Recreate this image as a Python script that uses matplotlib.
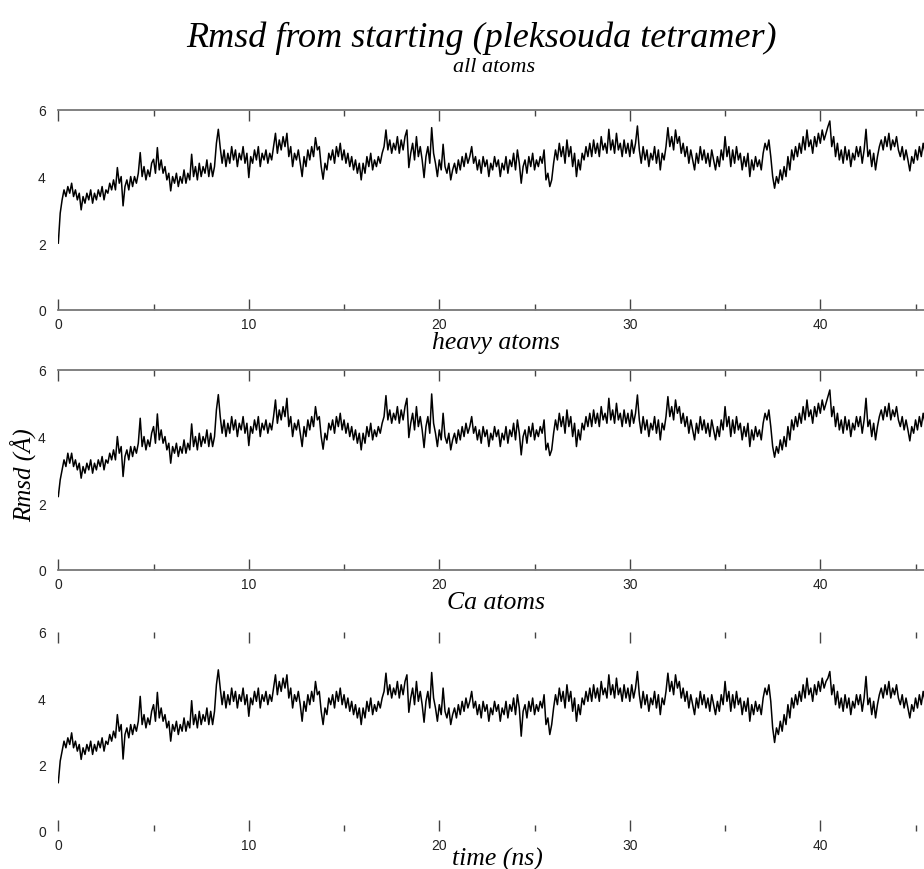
import numpy as np
import matplotlib
matplotlib.use("Agg")
import matplotlib.pyplot as plt

# ---------------- data (0.1 ns sampling) ----------------
time_step_ns = 0.1

rmsd_all = [
    2.0, 2.9, 3.3, 3.6, 3.4, 3.7, 3.5, 3.8, 3.4, 3.6,
    3.3, 3.5, 3.0, 3.4, 3.2, 3.5, 3.3, 3.6, 3.2, 3.5,
    3.3, 3.6, 3.4, 3.7, 3.3, 3.6, 3.5, 3.8, 3.6, 3.9,
    3.6, 4.27, 3.8, 4.0, 3.12, 3.7, 3.9, 3.6, 4.0, 3.7,
    4.0, 3.8, 4.1, 4.72, 4.0, 4.3, 3.9, 4.2, 4.0, 4.4,
    4.52, 4.1, 4.87, 4.2, 4.5, 4.1, 4.3, 3.9, 4.1, 3.57,
    4.0, 3.8, 4.1, 3.7, 4.0, 3.8, 4.2, 3.8, 4.1, 3.9,
    4.67, 4.0, 4.3, 3.9, 4.4, 4.0, 4.3, 4.1, 4.5, 4.0,
    4.4, 4.0, 4.3, 5.0, 5.42, 4.87, 4.4, 4.8, 4.3, 4.7,
    4.4, 4.9, 4.5, 4.8, 4.3, 4.7, 4.5, 4.9, 4.4, 4.7,
    3.97, 4.6, 4.4, 4.8, 4.5, 4.9, 4.3, 4.7, 4.5, 4.8,
    4.4, 4.7, 4.5, 4.9, 5.3, 4.7, 5.1, 4.8, 5.2, 4.9,
    5.3, 4.6, 4.9, 4.3, 4.7, 4.5, 4.8, 4.4, 4.0, 4.6,
    4.3, 4.8, 4.5, 4.9, 4.6, 5.17, 4.8, 4.9, 4.3, 3.92,
    4.4, 4.2, 4.7, 4.5, 4.8, 4.4, 4.9, 4.6, 5.0, 4.5,
    4.8, 4.4, 4.7, 4.3, 4.6, 4.2, 4.5, 4.1, 4.4, 3.9,
    4.4, 4.1, 4.6, 4.3, 4.7, 4.2, 4.5, 4.3, 4.6, 4.4,
    4.7, 4.9, 5.4, 4.8, 5.1, 4.7, 5.0, 4.8, 5.2, 4.7,
    5.1, 4.8, 5.2, 5.4, 4.27, 4.7, 5.0, 4.5, 5.2, 4.6,
    4.9, 4.5, 3.97, 4.6, 4.9, 4.4, 5.47, 4.7, 4.4, 4.0,
    4.5, 4.2, 4.97, 4.3, 4.1, 4.4, 3.9, 4.2, 4.4, 4.1,
    4.5, 4.2, 4.6, 4.3, 4.7, 4.4, 4.6, 4.9, 4.4, 4.6,
    4.2, 4.5, 4.1, 4.6, 4.3, 4.5, 4.0, 4.4, 4.2, 4.6,
    4.3, 4.5, 4.0, 4.4, 4.2, 4.6, 4.1, 4.5, 4.3, 4.7,
    4.2, 4.8, 4.4, 3.8, 4.3, 4.5, 4.1, 4.6, 4.3, 4.7,
    4.2, 4.5, 4.3, 4.6, 4.4, 4.8, 3.9, 4.1, 3.7, 3.9,
    4.4, 4.8, 4.5, 5.0, 4.6, 4.9, 4.4, 5.1, 4.6, 4.9,
    4.3, 4.7, 4.0, 4.5, 4.2, 4.7, 4.5, 4.9, 4.6, 5.0,
    4.6, 5.1, 4.7, 5.0, 4.6, 5.2, 4.8, 5.0, 4.7, 5.42,
    4.8, 5.1, 4.7, 5.3, 4.8, 5.0, 4.6, 5.1, 4.7, 5.0,
    4.6, 5.1, 4.7, 5.0, 5.52, 4.8, 4.4, 4.9, 4.5, 4.8,
    4.3, 4.7, 4.5, 4.9, 4.4, 4.8, 4.2, 4.7, 4.5, 4.9,
    5.47, 4.9, 5.2, 4.8, 5.4, 5.0, 5.2, 4.7, 5.0, 4.6,
    4.9, 4.4, 4.8, 4.5, 4.2, 4.7, 4.4, 4.9, 4.5, 4.8,
    4.4, 4.7, 4.3, 4.8, 4.5, 4.2, 4.6, 4.3, 4.8, 4.5,
    5.2, 4.6, 4.9, 4.3, 4.8, 4.4, 4.9, 4.5, 4.7, 4.2,
    4.6, 4.3, 4.7, 4.0, 4.5, 4.2, 4.6, 4.3, 4.5, 4.2,
    4.7, 5.0, 4.8, 5.1, 4.6, 4.0, 3.65, 4.0, 3.8, 4.2,
    3.9, 4.3, 4.0, 4.6, 4.2, 4.8, 4.5, 4.9, 4.6, 5.0,
    4.7, 5.2, 4.8, 5.4, 4.9, 5.1, 4.7, 5.2, 4.9, 5.3,
    5.0, 5.4, 5.1, 5.3, 5.5, 5.67, 4.9, 5.2, 4.6, 5.0,
    4.5, 4.8, 4.4, 4.9, 4.5, 4.8, 4.3, 4.7, 4.5, 4.9,
    4.6, 4.9, 4.4, 4.8, 5.42, 4.6, 4.8, 4.3, 4.7, 4.2,
    4.6, 4.9, 5.1, 4.8, 5.2, 4.9, 5.3, 4.8, 5.1, 4.9,
    5.2, 4.8, 4.6, 4.9, 4.5, 4.8, 4.5, 4.17, 4.6, 4.4,
    4.8, 4.5, 4.9, 4.6, 5.0, 4.7, 4.9, 4.5, 4.8, 4.6,
    4.8,
]

rmsd_heavy = [
    2.2, 2.7, 3.0, 3.3, 3.1, 3.5, 3.2, 3.5, 3.1, 3.3,
    3.0, 3.2, 2.75, 3.1, 2.9, 3.2, 3.0, 3.3, 2.9, 3.2,
    3.0, 3.3, 3.1, 3.4, 3.0, 3.3, 3.2, 3.5, 3.3, 3.6,
    3.3, 4.0, 3.5, 3.7, 2.8, 3.4, 3.6, 3.3, 3.7, 3.4,
    3.7, 3.5, 3.8, 4.55, 3.7, 4.0, 3.6, 3.9, 3.7, 4.1,
    4.3, 3.8, 4.68, 3.9, 4.2, 3.8, 4.0, 3.6, 3.8, 3.2,
    3.7, 3.5, 3.8, 3.4, 3.7, 3.5, 3.9, 3.5, 3.8, 3.6,
    4.38, 3.7, 4.0, 3.6, 4.1, 3.7, 4.0, 3.8, 4.2, 3.7,
    4.1, 3.7, 4.0, 4.8, 5.26, 4.6, 4.1, 4.5, 4.0, 4.4,
    4.1, 4.6, 4.2, 4.5, 4.0, 4.4, 4.2, 4.6, 4.1, 4.4,
    3.73, 4.3, 4.1, 4.5, 4.2, 4.6, 4.0, 4.4, 4.2, 4.5,
    4.1, 4.4, 4.2, 4.6, 5.1, 4.4, 4.8, 4.5, 4.9, 4.6,
    5.15, 4.3, 4.6, 4.0, 4.4, 4.2, 4.5, 4.1, 3.7, 4.3,
    4.0, 4.5, 4.2, 4.6, 4.3, 4.9, 4.5, 4.6, 4.0, 3.62,
    4.1, 3.9, 4.4, 4.2, 4.5, 4.1, 4.6, 4.3, 4.7, 4.2,
    4.5, 4.1, 4.4, 4.0, 4.3, 3.9, 4.2, 3.8, 4.1, 3.6,
    4.1, 3.8, 4.3, 4.0, 4.4, 3.9, 4.2, 4.0, 4.3, 4.1,
    4.4, 4.6, 5.23, 4.5, 4.8, 4.4, 4.7, 4.5, 4.9, 4.4,
    4.8, 4.5, 4.9, 5.15, 3.97, 4.4, 4.7, 4.2, 4.9, 4.3,
    4.6, 4.2, 3.67, 4.3, 4.6, 4.1, 5.28, 4.4, 4.1, 3.7,
    4.2, 3.9, 4.7, 4.0, 3.8, 4.1, 3.6, 3.9, 4.1, 3.8,
    4.2, 3.9, 4.3, 4.0, 4.4, 4.1, 4.3, 4.6, 4.1, 4.3,
    3.9, 4.2, 3.8, 4.3, 4.0, 4.2, 3.7, 4.1, 3.9, 4.3,
    4.0, 4.2, 3.7, 4.1, 3.9, 4.3, 3.8, 4.2, 4.0, 4.4,
    3.9, 4.5, 4.1, 3.45, 4.0, 4.2, 3.8, 4.3, 4.0, 4.4,
    3.9, 4.2, 4.0, 4.3, 4.1, 4.5, 3.6, 3.8, 3.43, 3.6,
    4.1, 4.5, 4.2, 4.7, 4.3, 4.6, 4.1, 4.8, 4.3, 4.6,
    4.0, 4.4, 3.7, 4.2, 3.9, 4.4, 4.2, 4.6, 4.3, 4.7,
    4.3, 4.8, 4.4, 4.7, 4.3, 4.9, 4.5, 4.7, 4.4, 5.15,
    4.5, 4.8, 4.4, 5.0, 4.5, 4.7, 4.3, 4.8, 4.4, 4.7,
    4.3, 4.8, 4.4, 4.7, 5.25, 4.5, 4.1, 4.6, 4.2, 4.5,
    4.0, 4.4, 4.2, 4.6, 4.1, 4.5, 3.9, 4.4, 4.2, 4.6,
    5.2, 4.6, 4.9, 4.5, 5.1, 4.7, 4.9, 4.4, 4.7, 4.3,
    4.6, 4.1, 4.5, 4.2, 3.9, 4.4, 4.1, 4.6, 4.2, 4.5,
    4.1, 4.4, 4.0, 4.5, 4.2, 3.9, 4.3, 4.0, 4.5, 4.2,
    4.9, 4.3, 4.6, 4.0, 4.5, 4.1, 4.6, 4.2, 4.4, 3.9,
    4.3, 4.0, 4.4, 3.7, 4.2, 3.9, 4.3, 4.0, 4.2, 3.9,
    4.4, 4.7, 4.5, 4.8, 4.3, 3.7, 3.38, 3.7, 3.5, 3.9,
    3.6, 4.0, 3.7, 4.3, 3.9, 4.5, 4.2, 4.6, 4.3, 4.7,
    4.4, 4.9, 4.5, 5.1, 4.6, 4.8, 4.4, 4.9, 4.6, 5.0,
    4.7, 5.1, 4.8, 5.0, 5.2, 5.4, 4.6, 4.9, 4.3, 4.7,
    4.2, 4.5, 4.1, 4.6, 4.2, 4.5, 4.0, 4.4, 4.2, 4.6,
    4.3, 4.6, 4.1, 4.5, 5.15, 4.3, 4.5, 4.0, 4.4, 3.9,
    4.3, 4.6, 4.8, 4.5, 4.9, 4.6, 5.0, 4.5, 4.8, 4.6,
    4.9, 4.5, 4.3, 4.6, 4.2, 4.5, 4.2, 3.87, 4.3, 4.1,
    4.5, 4.2, 4.6, 4.3, 4.7, 4.4, 4.6, 4.2, 4.5, 4.3,
    4.5,
]

rmsd_ca = [
    1.45, 2.1, 2.4, 2.7, 2.5, 2.8, 2.6, 2.95, 2.5, 2.7,
    2.4, 2.6, 2.15, 2.5, 2.3, 2.6, 2.4, 2.7, 2.3, 2.6,
    2.4, 2.7, 2.5, 2.8, 2.4, 2.7, 2.6, 2.9, 2.7, 3.0,
    2.8, 3.5, 3.0, 3.2, 2.16, 2.9, 3.1, 2.8, 3.2, 2.9,
    3.2, 3.0, 3.3, 4.05, 3.2, 3.5, 3.1, 3.4, 3.2, 3.6,
    3.8, 3.3, 4.17, 3.4, 3.7, 3.3, 3.5, 3.1, 3.3, 2.7,
    3.2, 3.0, 3.3, 2.9, 3.2, 3.0, 3.4, 3.0, 3.3, 3.1,
    3.92, 3.2, 3.5, 3.1, 3.6, 3.2, 3.5, 3.3, 3.7, 3.2,
    3.6, 3.2, 3.6, 4.4, 4.85, 4.3, 3.8, 4.2, 3.7, 4.1,
    3.8, 4.3, 3.9, 4.2, 3.7, 4.1, 3.9, 4.3, 3.8, 4.1,
    3.45, 4.0, 3.8, 4.2, 3.9, 4.3, 3.7, 4.1, 3.9, 4.2,
    3.8, 4.1, 3.9, 4.3, 4.7, 4.1, 4.5, 4.2, 4.6, 4.3,
    4.7, 4.0, 4.3, 3.7, 4.1, 3.9, 4.2, 3.8, 3.3, 3.9,
    3.6, 4.1, 3.8, 4.2, 3.9, 4.5, 4.1, 4.2, 3.6, 3.2,
    3.7, 3.5, 4.0, 3.8, 4.1, 3.7, 4.2, 3.9, 4.3, 3.8,
    4.1, 3.7, 4.0, 3.6, 3.9, 3.5, 3.8, 3.4, 3.7, 3.2,
    3.7, 3.4, 3.9, 3.6, 4.0, 3.5, 3.8, 3.6, 3.9, 3.7,
    4.0, 4.2, 4.75, 4.1, 4.4, 4.0, 4.3, 4.1, 4.5, 4.0,
    4.4, 4.1, 4.5, 4.7, 3.57, 4.0, 4.3, 3.8, 4.5, 3.9,
    4.2, 3.8, 3.27, 3.9, 4.2, 3.7, 4.77, 4.0, 3.7, 3.3,
    3.8, 3.5, 4.3, 3.6, 3.4, 3.7, 3.2, 3.5, 3.7, 3.4,
    3.8, 3.5, 3.9, 3.6, 4.0, 3.7, 3.9, 4.2, 3.7, 3.9,
    3.5, 3.8, 3.4, 3.9, 3.6, 3.8, 3.3, 3.7, 3.5, 3.9,
    3.6, 3.8, 3.3, 3.7, 3.5, 3.9, 3.4, 3.8, 3.6, 4.0,
    3.5, 4.1, 3.7, 2.85, 3.6, 3.8, 3.4, 3.9, 3.6, 4.0,
    3.5, 3.8, 3.6, 3.9, 3.7, 4.1, 3.2, 3.4, 2.9, 3.2,
    3.7, 4.1, 3.8, 4.3, 3.9, 4.2, 3.7, 4.4, 3.9, 4.2,
    3.6, 4.0, 3.3, 3.8, 3.5, 4.0, 3.8, 4.2, 3.9, 4.3,
    3.9, 4.4, 4.0, 4.3, 3.9, 4.5, 4.1, 4.3, 4.0, 4.7,
    4.1, 4.4, 4.0, 4.6, 4.1, 4.3, 3.9, 4.4, 4.0, 4.3,
    3.9, 4.4, 4.0, 4.3, 4.8, 4.1, 3.7, 4.2, 3.8, 4.1,
    3.6, 4.0, 3.8, 4.2, 3.7, 4.1, 3.5, 4.0, 3.8, 4.2,
    4.75, 4.2, 4.5, 4.1, 4.7, 4.3, 4.5, 4.0, 4.3, 3.9,
    4.2, 3.7, 4.1, 3.8, 3.5, 4.0, 3.7, 4.2, 3.8, 4.1,
    3.7, 4.0, 3.6, 4.1, 3.8, 3.5, 3.9, 3.6, 4.1, 3.8,
    4.5, 3.9, 4.2, 3.6, 4.1, 3.7, 4.2, 3.8, 4.0, 3.5,
    3.9, 3.6, 4.0, 3.3, 3.8, 3.5, 3.9, 3.6, 3.8, 3.5,
    4.0, 4.3, 4.1, 4.4, 3.9, 3.1, 2.66, 3.1, 2.9, 3.3,
    3.0, 3.5, 3.2, 3.8, 3.4, 4.0, 3.7, 4.1, 3.8, 4.2,
    3.9, 4.4, 4.0, 4.6, 4.1, 4.3, 3.9, 4.4, 4.1, 4.5,
    4.2, 4.6, 4.3, 4.5, 4.6, 4.8, 4.1, 4.4, 3.8, 4.2,
    3.7, 4.0, 3.6, 4.1, 3.7, 4.0, 3.5, 3.9, 3.7, 4.1,
    3.8, 4.1, 3.6, 4.0, 4.65, 3.8, 4.0, 3.5, 3.9, 3.4,
    3.8, 4.1, 4.3, 4.0, 4.4, 4.1, 4.5, 4.0, 4.3, 4.1,
    4.4, 4.0, 3.8, 4.1, 3.7, 4.0, 3.7, 3.4, 3.8, 3.6,
    4.0, 3.7, 4.1, 3.8, 4.2, 3.9, 4.1, 3.7, 4.0, 3.8,
    4.0,
]

panel_titles = ["all atoms", "heavy atoms", "Ca atoms"]
x_major_ticks = [0, 10, 20, 30, 40]
x_minor_ticks = [5, 15, 25, 35, 45]
y_ticks = [0, 2, 4, 6]

# ---------------- figure ----------------
W, H = 924, 870
fig = plt.figure(figsize=(W / 100, H / 100), dpi=100)

serif_it = dict(family="Liberation Serif", style="italic")
tick_font = "Liberation Sans"

x0_px = 58.3
px_per_ns = 19.05
xmax = (W - x0_px) / px_per_ns

# (y of value 6, y of value 0) in pixels
panel_px = [(111.0, 310.7), (371.0, 570.7), (632.7, 831.7)]
series = [rmsd_all, rmsd_heavy, rmsd_ca]

for i, ((ytop, ybot), vals) in enumerate(zip(panel_px, series)):
    ax = fig.add_axes([x0_px / W, 1 - ybot / H, 1 - x0_px / W, (ybot - ytop) / H])
    t = np.arange(len(vals)) * time_step_ns
    ax.plot(t, vals, color="black", lw=1.1)
    ax.set_xlim(0, xmax)
    ax.set_ylim(0, 6)
    ax.set_xticks(x_major_ticks)
    ax.set_xticks(x_minor_ticks, minor=True)
    ax.set_yticks(y_ticks)
    ax.tick_params(axis="x", which="major", direction="in", top=True, bottom=True,
                   length=8, width=1, color="#444444", pad=5, labelsize=10)
    ax.tick_params(axis="x", which="minor", direction="in", top=True, bottom=True,
                   length=4.5, width=1, color="#444444")
    ax.tick_params(axis="y", length=0, pad=9, labelsize=10)
    for lab in ax.get_xticklabels() + ax.get_yticklabels():
        lab.set_family(tick_font)
        lab.set_color("#222222")
    for s in ["left", "right"]:
        ax.spines[s].set_visible(False)
    for s in ["top", "bottom"]:
        if i < 2:
            ax.spines[s].set_color("#777777")
            ax.spines[s].set_linewidth(1.3)
        else:
            ax.spines[s].set_visible(False)
    ax.patch.set_alpha(0)

# texts
fig.text(481 / W, 1 - 38 / H, "Rmsd from starting (pleksouda tetramer)",
         ha="center", va="center", fontsize=26, **serif_it)
fig.text(494 / W, 1 - 68 / H, panel_titles[0], ha="center", va="center", fontsize=16, **serif_it)
fig.text(496 / W, 1 - 343 / H, panel_titles[1], ha="center", va="center", fontsize=18.5, **serif_it)
fig.text(496 / W, 1 - 603 / H, panel_titles[2], ha="center", va="center", fontsize=18.5, **serif_it)
fig.text(497 / W, 1 - 859 / H, "time (ns)", ha="center", va="center", fontsize=18.5, **serif_it)
fig.text(23 / W, 1 - 475 / H, "Rmsd (Å)", ha="center", va="center", rotation=90,
         fontsize=18, **serif_it)

fig.savefig("out.png", dpi=100)
